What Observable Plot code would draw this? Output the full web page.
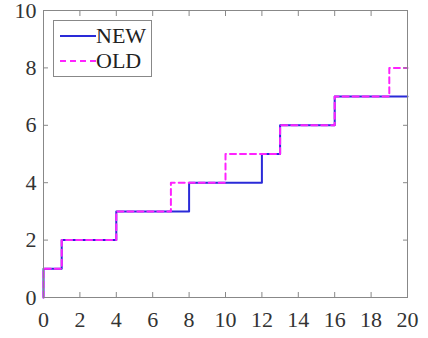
<!DOCTYPE html>
<html>
<head>
<meta charset="utf-8">
<script src="https://cdn.jsdelivr.net/npm/d3@7"></script>
<script src="https://cdn.jsdelivr.net/npm/@observablehq/plot@0.6"></script>
<style>
  html, body { margin: 0; padding: 0; background: #fff; }
  #wrap { position: relative; width: 428px; height: 338px; }
  #wrap svg text { font-family: "Liberation Serif" !important; }
  #legend {
    position: absolute; left: 53px; top: 20px; width: 99px; height: 57px;
    border: 1px solid #888; background: #fff; box-sizing: border-box;
    font-family: "Liberation Serif" !important; font-size: 22px; color: #222;
  }
  .row { position: absolute; left: 6px; display: flex; align-items: center; height: 24px; }
  .row svg { display: block; }
</style>
</head>
<body>
<div id="wrap">
  <div id="legend">
    <div class="row" style="top:3px"><svg width="36" height="4"><line x1="0" x2="36" y1="2" y2="2" stroke="#2a2ad8" stroke-width="2"/></svg><span>NEW</span></div>
    <div class="row" style="top:28px"><svg width="36" height="4"><line x1="0" x2="36" y1="2" y2="2" stroke="#ff22ff" stroke-width="2" stroke-dasharray="6,4"/></svg><span>OLD</span></div>
  </div>
</div>
<script>
// Step values: value holds from each x until the next one
const newX = [0, 0, 1, 4, 8, 12, 13, 16, 20];
const newY = [0, 1, 2, 3, 4, 5, 6, 7, 7];
const oldX = [0, 0, 1, 4, 7, 10, 13, 16, 19, 20];
const oldY = [0, 1, 2, 3, 4, 5, 6, 7, 8, 8];
const xTicks = [0, 2, 4, 6, 8, 10, 12, 14, 16, 18, 20];
const yTicks = [0, 2, 4, 6, 8, 10];

const newData = newX.map((x, i) => ({x, y: newY[i]}));
const oldData = oldX.map((x, i) => ({x, y: oldY[i]}));

const chart = Plot.plot({
  width: 428,
  height: 338,
  marginLeft: 43,
  marginRight: 21,
  marginTop: 10,
  marginBottom: 41,
  style: {fontFamily: "Liberation Serif", fontSize: "22px", color: "#333", background: "#fff", overflow: "visible"},
  x: {domain: [0, 20]},
  y: {domain: [0, 10]},
  marks: [
    Plot.line(newData, {x: "x", y: "y", curve: "step-after", stroke: "#2a2ad8", strokeWidth: 2}),
    Plot.line(oldData, {x: "x", y: "y", curve: "step-after", stroke: "#ff22ff", strokeWidth: 2, strokeDasharray: "6,4"}),
    Plot.frame({stroke: "#888", strokeWidth: 1}),
    Plot.axisX(xTicks, {anchor: "bottom", tickSize: 0, tickPadding: 14, label: null, fontSize: 22}),
    Plot.axisX(xTicks, {anchor: "bottom", tickSize: -5, text: null, label: null, stroke: "#888"}),
    Plot.axisX(xTicks, {anchor: "top", tickSize: -5, text: null, label: null, stroke: "#888"}),
    Plot.axisY(yTicks, {anchor: "left", tickSize: 0, tickPadding: 7, label: null, fontSize: 22}),
    Plot.axisY(yTicks, {anchor: "left", tickSize: -5, text: null, label: null, stroke: "#888"}),
    Plot.axisY(yTicks, {anchor: "right", tickSize: -5, text: null, label: null, stroke: "#888"})
  ]
});
document.getElementById("wrap").prepend(chart);
</script>
</body>
</html>
